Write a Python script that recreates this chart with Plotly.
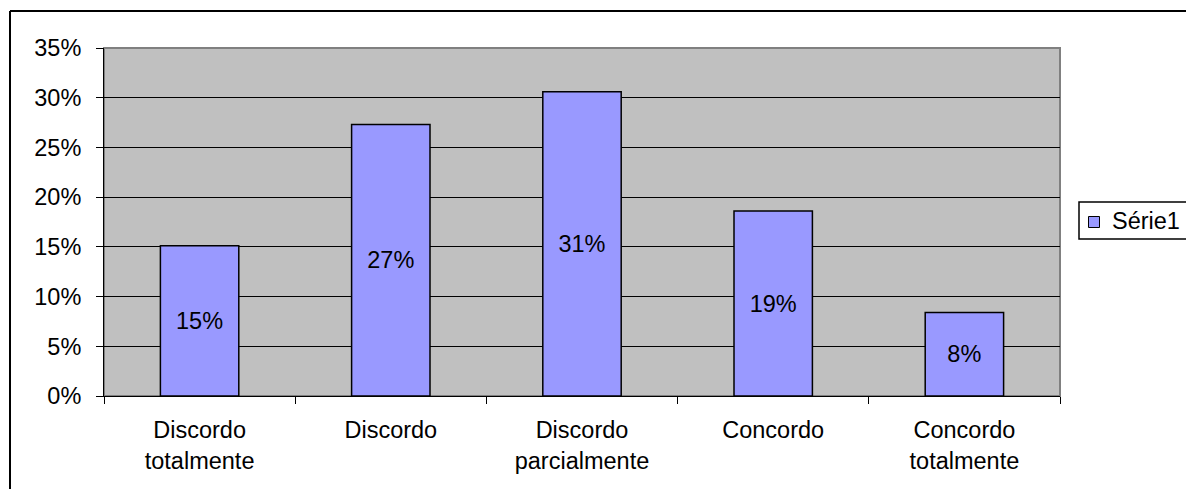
import plotly.graph_objects as go

# Survey responses: share of answers per agreement level
categories = ["Discordo<br>totalmente", "Discordo", "Discordo<br>parcialmente",
              "Concordo", "Concordo<br>totalmente"]
shares = [0.151, 0.273, 0.306, 0.186, 0.084]
series_name = "Série1"
y_ticks = [0, 0.05, 0.10, 0.15, 0.20, 0.25, 0.30, 0.35]

W, H = 1186, 489
L, R, T, B = 104, 126, 48, 93
pw, ph = W - L - R, H - T - B

BAR_COLOR = "#9999FF"
FAMILY = "Liberation Sans, Arial, sans-serif"
FONT = dict(family=FAMILY, size=23.5, color="black")

# pixel -> paper coordinate helpers (for frame and legend decorations)
px = lambda x: (x - L) / pw
py = lambda y: (H - B - y) / ph

fig = go.Figure()
fig.add_trace(go.Bar(
    x=categories,
    y=shares,
    name=series_name,
    marker=dict(color=BAR_COLOR, line=dict(color="black", width=1.5)),
    texttemplate="%{y:.0%}",
    textposition="inside",
    insidetextanchor="middle",
    textfont=FONT,
    showlegend=False,
))

# frame around the whole chart (top and left edges)
fig.add_shape(type="line", xref="paper", yref="paper",
              x0=px(10), x1=px(W + 5), y0=py(11), y1=py(11),
              line=dict(color="black", width=2))
fig.add_shape(type="line", xref="paper", yref="paper",
              x0=px(10), x1=px(10), y0=py(11), y1=py(H + 5),
              line=dict(color="black", width=2))
# grey plot-area border
fig.add_shape(type="rect", xref="paper", yref="paper",
              x0=0, x1=1, y0=0, y1=1, layer="below",
              line=dict(color="#808080", width=2))

# legend box with series swatch
fig.add_shape(type="rect", xref="paper", yref="paper",
              x0=px(1079), x1=px(W + 10), y0=py(239), y1=py(202),
              line=dict(color="black", width=1.5), fillcolor="white")
fig.add_shape(type="rect", xref="paper", yref="paper",
              x0=px(1088.5), x1=px(1099.5), y0=py(227.5), y1=py(216.5),
              line=dict(color="black", width=1), fillcolor=BAR_COLOR)
fig.add_annotation(xref="paper", yref="paper", x=px(1110), y=py(221),
                   xanchor="left", yanchor="middle", text=series_name,
                   showarrow=False, font=FONT)

fig.update_layout(
    width=W, height=H,
    margin=dict(l=L, r=R, t=T, b=B, pad=0, autoexpand=False),
    paper_bgcolor="white",
    plot_bgcolor="#C0C0C0",
    font=FONT,
    bargap=0.59,
    showlegend=False,
    xaxis=dict(
        showgrid=False, showline=True, linecolor="black", linewidth=1,
        ticks="outside", tickson="boundaries", ticklen=7, tickcolor="black",
        tickfont=FONT, ticklabelstandoff=13,
    ),
    yaxis=dict(
        range=[0, 0.35], tickvals=y_ticks, tickformat=".0%",
        showgrid=True, gridcolor="black", gridwidth=1,
        showline=True, linecolor="black", linewidth=1,
        ticks="outside", ticklen=7, tickcolor="black",
        tickfont=FONT, ticklabelstandoff=10, zeroline=False,
    ),
)

fig.write_html("out.html")
